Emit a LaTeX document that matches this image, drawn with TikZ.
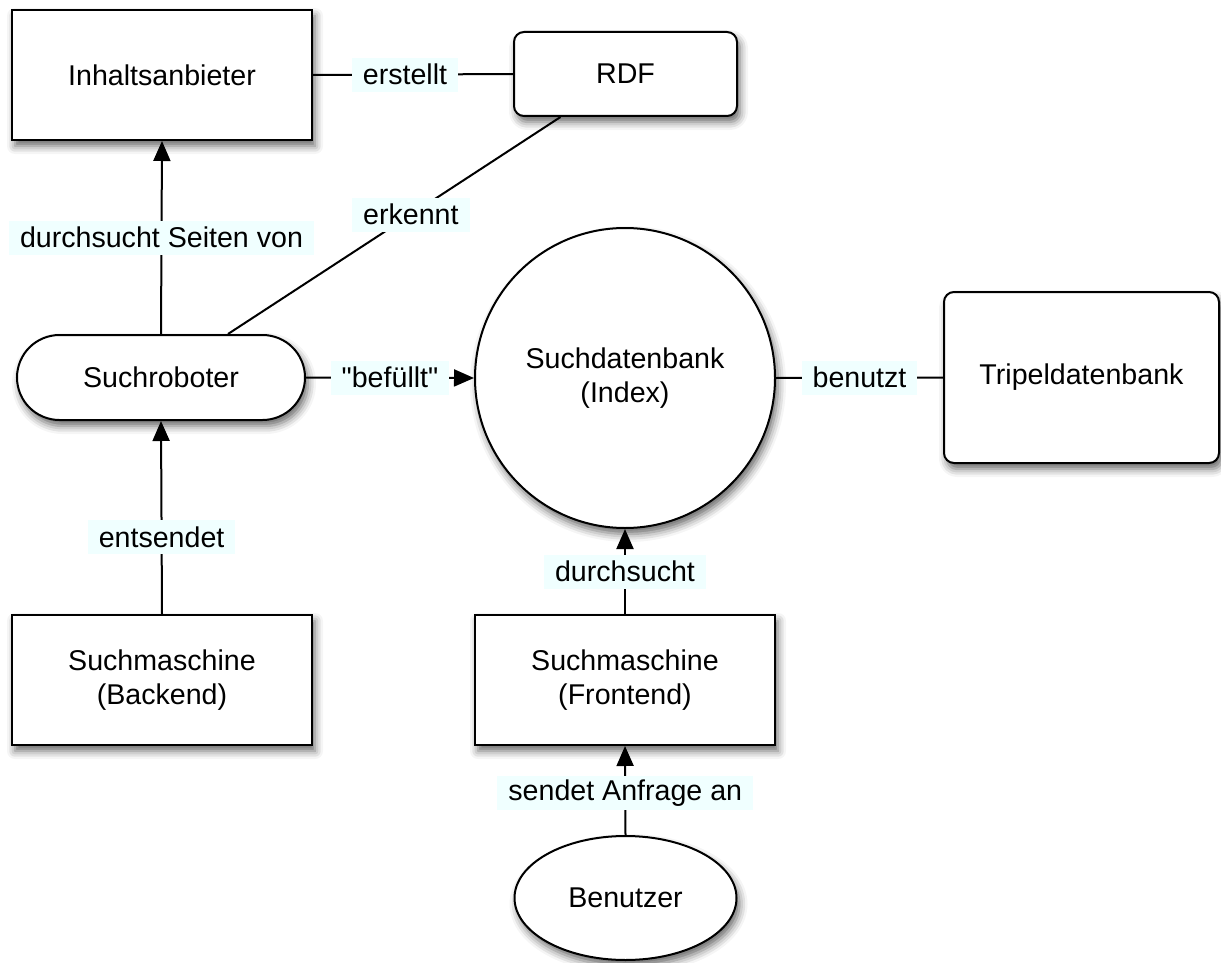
\documentclass[tikz,border=0pt]{standalone}
\usepackage{fontspec}
\setmainfont{Liberation Sans}[Ligatures=TeXOff]
\usetikzlibrary{arrows.meta,shapes.geometric,shapes.misc,shadows.blur}
\definecolor{lblbg}{RGB}{240,255,255}
\begin{document}
\begin{tikzpicture}[x=0.5pt,y=-0.5pt,
  every node/.style={font=\fontsize{14.3}{17}\selectfont},
  shad/.style={blur shadow={shadow xshift=1.5pt,shadow yshift=-3pt,shadow blur radius=4pt,shadow opacity=60}},
  base/.style={draw,line width=1pt,fill=white,shad,align=center,inner sep=0pt},
  sqbox/.style={base,rectangle,minimum width=150pt,minimum height=65pt},
  rbox/.style={base,rectangle,rounded corners=5pt},
  conn/.style={line width=1pt},
  arr/.style={conn,-{Triangle[length=10pt,width=8.5pt]}},
  lbl/.style={fill=lblbg,inner xsep=5.5pt,inner ysep=0pt,minimum height=17pt}
]
\useasboundingbox (0,0) rectangle (1221,963);

\node[sqbox] (inh) at (162,75) {Inhaltsanbieter};
\node[rbox,minimum width=111.5pt,minimum height=42pt] (rdf) at (625.5,74) {RDF};
\node[base,rounded rectangle,minimum width=144pt,minimum height=42.5pt] (sr) at (161,377.5) {Suchroboter};
\node[base,circle,minimum size=150pt] (sdb) at (625,378) {Suchdatenbank\\(Index)};
\node[rbox,minimum width=137.5pt,minimum height=85.5pt] (tdb) at (1081.5,377.5) {Tripeldatenbank};
\node[sqbox] (be) at (162,680) {Suchmaschine\\(Backend)};
\node[sqbox] (fe) at (625,680) {Suchmaschine\\(Frontend)};
\node[base,ellipse,minimum width=111pt,minimum height=62pt] (ben) at (625.5,898) {Benutzer};

\draw[arr] (sr.north) -- node[lbl,pos=0.5] {durchsucht Seiten von\ } (inh.south);
\draw[conn] (inh.east) -- node[lbl,pos=0.46] {erstellt\ } (rdf.west);
\draw[conn] ([xshift=33.5pt]sr.north) -- node[lbl,pos=0.55] {erkennt\ } ([xshift=-32.5pt]rdf.south);
\draw[arr] (sr.east) -- node[lbl,pos=0.5] {"befüllt"\ } (sdb.west);
\draw[conn] (sdb.east) -- node[lbl,pos=0.5] {benutzt\ } (tdb.west);
\draw[arr] (be.north) -- node[lbl,pos=0.4] {entsendet\ } (sr.south);
\draw[arr] (fe.north) -- node[lbl,pos=0.5] {durchsucht\ } (sdb.south);
\draw[arr] (ben.north) -- node[lbl,pos=0.47] {sendet Anfrage an\ } (fe.south);
\end{tikzpicture}
\end{document}
